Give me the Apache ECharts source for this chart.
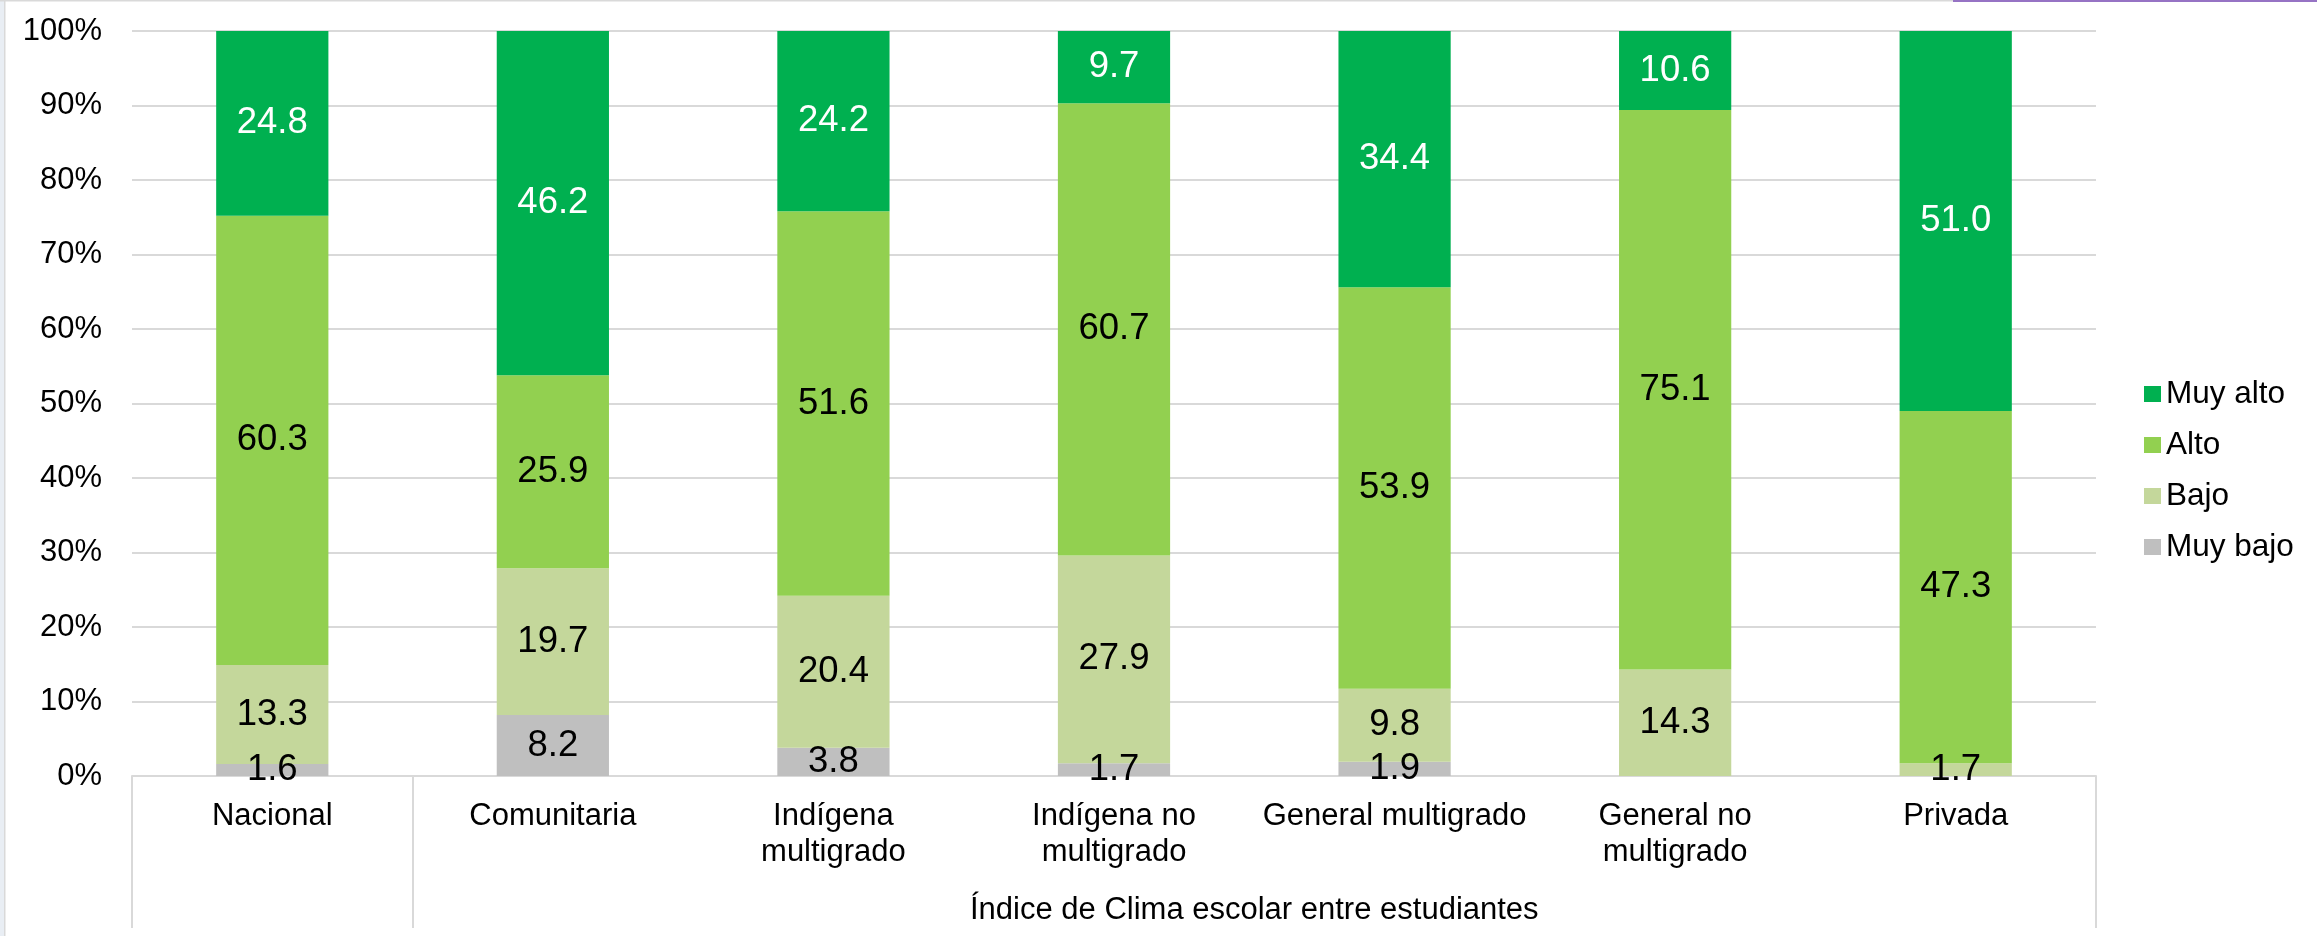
<!DOCTYPE html>
<html>
<head>
<meta charset="utf-8">
<script src="https://cdn.jsdelivr.net/npm/echarts@6/dist/echarts.min.js"></script>
<style>
  html, body { margin: 0; padding: 0; background: #fff; }
  #myChart { width: 2317px; height: 936px; }
</style>
</head>
<body>
<div id="myChart"></div>
<script>
  // categorías y valores (%)
  const categories = ['Nacional', 'Comunitaria', 'Indígena\nmultigrado', 'Indígena no\nmultigrado',
    'General multigrado', 'General no\nmultigrado', 'Privada']
  const groupLabel = 'Índice de Clima escolar entre estudiantes'
  const muyBajo = [1.6, 8.2, 3.8, 1.7, 1.9, 0, 0]
  const bajo = [13.3, 19.7, 20.4, 27.9, 9.8, 14.3, 1.7]
  const alto = [60.3, 25.9, 51.6, 60.7, 53.9, 75.1, 47.3]
  const muyAlto = [24.8, 46.2, 24.2, 9.7, 34.4, 10.6, 51.0]
  const yTicks = [0, 10, 20, 30, 40, 50, 60, 70, 80, 90, 100]

  const font = 'Liberation Sans, Arial, sans-serif'
  const gridColor = '#d9d9d9'

  function makeSeries(name, data, color, labelColor) {
    return {
      name: name,
      type: 'bar',
      stack: 'total',
      barWidth: '40%',
      data: data,
      itemStyle: { color: color },
      label: {
        show: true,
        position: 'inside',
        color: labelColor,
        fontSize: 36.5,
        fontFamily: font,
        formatter: function (p) { return p.value ? p.value.toFixed(1) : '' }
      },
      animation: false
    }
  }

  let myChart = echarts.init(document.getElementById('myChart'))
  myChart.setOption({
    animation: false,
    textStyle: { fontFamily: font, color: '#000' },
    grid: { left: 132, right: 221, top: 31, bottom: 160 },
    legend: {
      orient: 'vertical',
      left: 2139,
      top: 373,
      data: ['Muy alto', 'Alto', 'Bajo', 'Muy bajo'],
      icon: 'rect',
      itemWidth: 17,
      itemHeight: 16,
      itemGap: 19,
      textStyle: { fontSize: 31.5, fontFamily: font, color: '#000' }
    },
    xAxis: [
      {
        type: 'category',
        data: categories,
        axisLine: { lineStyle: { color: gridColor, width: 2 } },
        axisTick: { show: false },
        axisLabel: { interval: 0, fontSize: 31, lineHeight: 36, margin: 22, color: '#000', fontFamily: font }
      },
      {
        // segundo nivel del eje (grupo)
        type: 'value',
        position: 'bottom',
        min: 0,
        max: 7,
        axisLine: { show: false },
        splitLine: { show: false },
        axisTick: { show: true, customValues: [0, 1, 7], length: 152, lineStyle: { color: gridColor, width: 2 } },
        axisLabel: {
          customValues: [4],
          fontSize: 31,
          lineHeight: 36,
          margin: 116,
          color: '#000',
          fontFamily: font,
          formatter: function () { return groupLabel }
        }
      }
    ],
    yAxis: {
      type: 'value',
      min: yTicks[0],
      max: yTicks[yTicks.length - 1],
      interval: 10,
      axisLine: { show: false },
      axisTick: { show: false },
      splitLine: { lineStyle: { color: gridColor, width: 2 } },
      axisLabel: { fontSize: 31, margin: 30, color: '#000', fontFamily: font, formatter: '{value}%' }
    },
    graphic: [
      { type: 'rect', left: 0, top: 0, shape: { width: 4, height: 936 }, style: { fill: '#e9eef4' }, silent: true },
      { type: 'rect', left: 4, top: 0, shape: { width: 1.5, height: 936 }, style: { fill: '#d9d9d9' }, silent: true },
      { type: 'rect', left: 0, top: 0, shape: { width: 1953, height: 1.5 }, style: { fill: '#d9d9d9' }, silent: true },
      { type: 'rect', left: 1953, top: 0, shape: { width: 364, height: 2 }, style: { fill: '#9673c4' }, silent: true }
    ],
    series: [
      makeSeries('Muy bajo', muyBajo, '#bfbfbf', '#000'),
      makeSeries('Bajo', bajo, '#c4d79b', '#000'),
      makeSeries('Alto', alto, '#92d050', '#000'),
      makeSeries('Muy alto', muyAlto, '#00b050', '#fff')
    ]
  })
</script>
</body>
</html>
